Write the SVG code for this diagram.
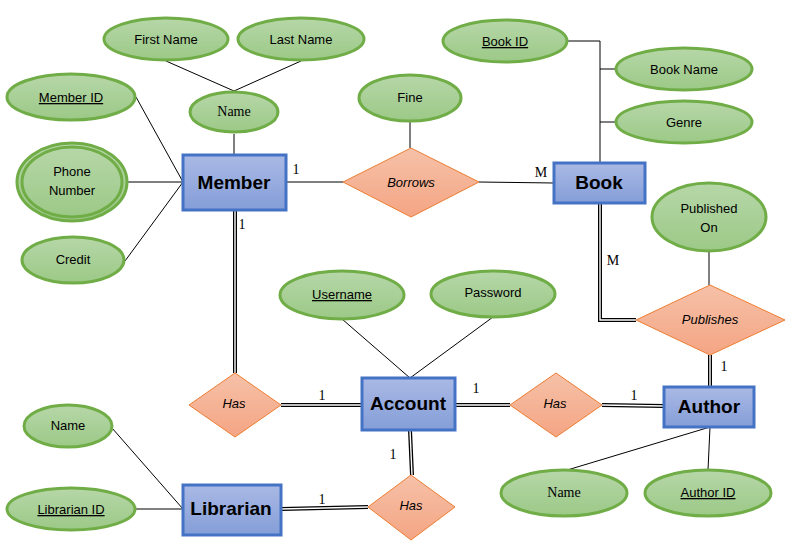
<svg xmlns="http://www.w3.org/2000/svg" width="800" height="550" viewBox="0 0 800 550">
<defs>
<linearGradient id="gA" x1="0" y1="0" x2="0" y2="1"><stop offset="0" stop-color="#b6d7a8"/><stop offset="1" stop-color="#9cc987"/></linearGradient>
<linearGradient id="gE" x1="0" y1="0" x2="0" y2="1"><stop offset="0" stop-color="#aab9e5"/><stop offset="1" stop-color="#849ed8"/></linearGradient>
<linearGradient id="gR" x1="0" y1="0" x2="0" y2="1"><stop offset="0" stop-color="#f6c1a8"/><stop offset="1" stop-color="#f4a584"/></linearGradient>
</defs>
<style>
.attr{fill:url(#gA);stroke:#70ad47;stroke-width:3}
.ent{fill:url(#gE);stroke:#4472c4;stroke-width:3}
.rel{fill:url(#gR);stroke:#ed7d31;stroke-width:1}
.ln{fill:none;stroke:#000;stroke-width:1}
.dbo{fill:none;stroke:#000;stroke-width:4}
.dbi{fill:none;stroke:#fff;stroke-width:1.4}
.t{font-family:"Liberation Sans",Arial,sans-serif;font-size:13px;fill:#000;text-anchor:middle}
.ts{font-family:"Liberation Serif","Times New Roman",serif;font-size:14px;fill:#000;text-anchor:middle}
.u{text-decoration:underline}
.te{font-family:"Liberation Sans",Arial,sans-serif;font-size:19px;font-weight:bold;fill:#000;text-anchor:middle}
.tr{font-family:"Liberation Sans",Arial,sans-serif;font-size:13px;font-style:italic;fill:#000;text-anchor:middle}
.c{font-family:"Liberation Serif","Times New Roman",serif;font-size:14px;fill:#000;text-anchor:middle}
</style>
<g id="connectors">
<path class="ln" d="M166 61 L234 91 L301 61"/>
<path class="ln" d="M234 134 V155"/>
<path class="ln" d="M136 97 L183 182 M128 182 H183 M125 261 L183 182"/>
<path class="ln" d="M286 182 H343 M479 182 L554 183"/>
<path class="ln" d="M410 122 V148"/>
<path class="ln" d="M568 41 H600 V163 M600 69 H616 M600 122 H617"/>
<path class="ln" d="M709 251 V285"/>
<path class="ln" d="M342 319 L410 378 L493 317"/>
<path class="ln" d="M564 471 L710 427 M710 427 L708 470"/>
<path class="ln" d="M112 428 L183 509 M136 509 H183"/>
<g id="doubles">
<path class="dbo" d="M600 203 V320 H636"/><path class="dbi" d="M600 203 V320 H636"/>
<path class="dbo" d="M710 355 V387"/><path class="dbi" d="M710 355 V387"/>
<path class="dbo" d="M235 210 V373"/><path class="dbi" d="M235 210 V373"/>
<path class="dbo" d="M281 405 H362"/><path class="dbi" d="M281 405 H362"/>
<path class="dbo" d="M455 405 H510"/><path class="dbi" d="M455 405 H510"/>
<path class="dbo" d="M602 405 L664 406"/><path class="dbi" d="M602 405 L664 406"/>
<path class="dbo" d="M410 430 L412 475"/><path class="dbi" d="M410 430 L412 475"/>
<path class="dbo" d="M281 509 L368 507"/><path class="dbi" d="M281 509 L368 507"/>
</g>
<text class="c" x="296" y="174">1</text>
<text class="c" x="541" y="177">M</text>
<text class="c" x="613" y="265">M</text>
<text class="c" x="724" y="371">1</text>
<text class="c" x="242" y="229">1</text>
<text class="c" x="322" y="400">1</text>
<text class="c" x="476" y="393">1</text>
<text class="c" x="634" y="400">1</text>
<text class="c" x="393" y="459">1</text>
<text class="c" x="322" y="504">1</text>
</g>
<g id="first-name"><ellipse class="attr" cx="166" cy="39" rx="62" ry="21"/><text class="t" x="166" y="44">First Name</text></g>
<g id="last-name"><ellipse class="attr" cx="301" cy="39" rx="63" ry="21"/><text class="t" x="301" y="44">Last Name</text></g>
<g id="member-name"><ellipse class="attr" cx="234" cy="112" rx="44" ry="20"/><text class="ts" x="234" y="116">Name</text></g>
<g id="member-id"><ellipse class="attr" cx="71" cy="97" rx="64" ry="23"/><text class="t u" x="71" y="102">Member ID</text></g>
<g id="phone-number"><ellipse class="attr" cx="72" cy="182" rx="55" ry="39" stroke-width="1.5"/><ellipse class="attr" cx="72" cy="182" rx="50" ry="35"/><text class="t" x="72" y="176">Phone</text><text class="t" x="72" y="195">Number</text></g>
<g id="credit"><ellipse class="attr" cx="73" cy="260" rx="51" ry="23"/><text class="t" x="73" y="264">Credit</text></g>
<g id="fine"><ellipse class="attr" cx="410" cy="98" rx="51" ry="23"/><text class="t" x="410" y="102">Fine</text></g>
<g id="book-id"><ellipse class="attr" cx="505" cy="41" rx="62" ry="21"/><text class="t u" x="505" y="46">Book ID</text></g>
<g id="book-name"><ellipse class="attr" cx="684" cy="69" rx="68" ry="21"/><text class="t" x="684" y="74">Book Name</text></g>
<g id="genre"><ellipse class="attr" cx="684" cy="122" rx="68" ry="21"/><text class="t" x="684" y="127">Genre</text></g>
<g id="published-on"><ellipse class="attr" cx="709" cy="217" rx="57" ry="34"/><text class="t" x="709" y="213">Published</text><text class="t" x="709" y="232">On</text></g>
<g id="username"><ellipse class="attr" cx="342" cy="295" rx="62" ry="24"/><text class="t u" x="342" y="299">Username</text></g>
<g id="password"><ellipse class="attr" cx="493" cy="294" rx="62" ry="23"/><text class="t" x="493" y="297">Password</text></g>
<g id="librarian-name"><ellipse class="attr" cx="68" cy="426" rx="44" ry="21"/><text class="t" x="68" y="430">Name</text></g>
<g id="librarian-id"><ellipse class="attr" cx="71" cy="509" rx="64" ry="21"/><text class="t u" x="71" y="514">Librarian ID</text></g>
<g id="author-name"><ellipse class="attr" cx="564" cy="493" rx="63" ry="23"/><text class="ts" x="564" y="497">Name</text></g>
<g id="author-id"><ellipse class="attr" cx="708" cy="493" rx="63" ry="23"/><text class="t u" x="708" y="497">Author ID</text></g>
<g id="member"><rect class="ent" x="183" y="155" width="103" height="55"/><text class="te" x="234" y="189">Member</text></g>
<g id="book"><rect class="ent" x="554" y="163" width="91" height="40"/><text class="te" x="599" y="189">Book</text></g>
<g id="account"><rect class="ent" x="362" y="378" width="93" height="52"/><text class="te" x="408" y="410">Account</text></g>
<g id="author"><rect class="ent" x="664" y="387" width="90" height="40"/><text class="te" x="709" y="413">Author</text></g>
<g id="librarian"><rect class="ent" x="183" y="485" width="98" height="50"/><text class="te" x="231" y="515">Librarian</text></g>
<g id="borrows"><polygon class="rel" points="343,182 411,148 479,182 411,217"/><text class="tr" x="411" y="187">Borrows</text></g>
<g id="publishes"><polygon class="rel" points="636,320 710,285 785,320 710,355"/><text class="tr" x="710" y="324">Publishes</text></g>
<g id="has-member"><polygon class="rel" points="189,405 235,373 281,405 235,437"/><text class="tr" x="234" y="408">Has</text></g>
<g id="has-author"><polygon class="rel" points="510,405 556,373 602,405 556,437"/><text class="tr" x="555" y="408">Has</text></g>
<g id="has-librarian"><polygon class="rel" points="368,507 411,475 455,507 411,540"/><text class="tr" x="411" y="510">Has</text></g>
</svg>
